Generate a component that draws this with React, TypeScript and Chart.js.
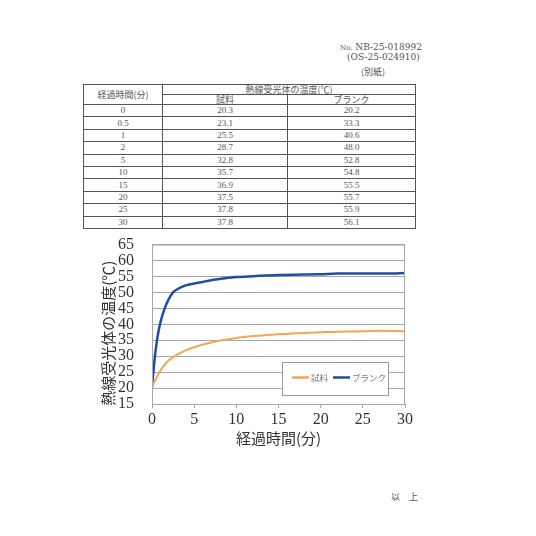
import React, { useEffect, useRef } from "react";
import { Chart, registerables } from "chart.js";

Chart.register(...registerables);

// ---- Table data ----
const tableTimes = ["0", "0.5", "1", "2", "5", "10", "15", "20", "25", "30"];
const tableSample = ["20.3", "23.1", "25.5", "28.7", "32.8", "35.7", "36.9", "37.5", "37.8", "37.8"];
const tableBlank = ["20.2", "33.3", "40.6", "48.0", "52.8", "54.8", "55.5", "55.7", "55.9", "56.1"];

// ---- Chart data ----
const sampleTime = [0, 0.5, 1, 1.5, 2, 3, 4, 5, 7, 10, 12, 15, 18, 20, 22, 25, 27, 29, 30];
const sampleTemp = [20.3, 23.1, 25.5, 27.3, 28.7, 30.5, 31.8, 32.8, 34.3, 35.7, 36.3, 36.9, 37.3, 37.5, 37.7, 37.8, 38.0, 37.9, 37.8];
const blankTime = [0, 0.25, 0.5, 0.75, 1, 1.5, 2, 2.5, 3, 4, 5, 6, 7, 8, 10, 12, 15, 18, 20, 22, 25, 28, 30];
const blankTemp = [20.2, 27.5, 33.3, 37.5, 40.6, 45.0, 48.0, 50.0, 51.0, 52.2, 52.8, 53.3, 53.8, 54.2, 54.8, 55.1, 55.5, 55.6, 55.7, 55.9, 55.9, 55.9, 56.1];

const seriesLabels = ["試料", "ブランク"];
const seriesColors = ["#f2a654", "#1f4fa0"];
const xTitle = "経過時間(分)";
const yTitle = "熱線受光体の温度(℃)";

const serif = "'Liberation Serif', 'DejaVu Serif', 'Noto Sans CJK JP', serif";
const dvSerif = "'DejaVu Serif', 'Liberation Serif', 'Noto Sans CJK JP', serif";
const cjk = "'Noto Sans CJK JP', sans-serif";

const decorPlugin = {
  id: "decor",
  afterDraw(chart: any) {
    const ctx = chart.ctx;
    const ca = chart.chartArea;
    ctx.save();
    // plot border
    ctx.strokeStyle = "#a8a8a8";
    ctx.lineWidth = 1;
    ctx.strokeRect(ca.left + 0.5, ca.top + 0.5, ca.right - ca.left - 1, ca.bottom - ca.top);
    // y-axis title
    ctx.save();
    ctx.translate(ca.left - 44, (ca.top + ca.bottom) / 2 + 9);
    ctx.rotate(-Math.PI / 2);
    ctx.font = "15px " + cjk;
    ctx.fillStyle = "#333";
    ctx.textAlign = "center";
    ctx.textBaseline = "middle";
    ctx.fillText(yTitle, 0, 0);
    ctx.restore();
    // legend box
    const bx = ca.right - 123;
    const by = ca.bottom - 42;
    ctx.fillStyle = "#ffffff";
    ctx.fillRect(bx, by, 106, 33);
    ctx.strokeStyle = "#9a9a9a";
    ctx.strokeRect(bx + 0.5, by + 0.5, 106, 33);
    const items = chart.data.datasets;
    const offs = [10, 51];
    ctx.font = "8.5px " + cjk;
    ctx.textBaseline = "middle";
    ctx.textAlign = "left";
    items.forEach((ds: any, i: number) => {
      const x = bx + offs[i];
      const y = by + 15.5;
      ctx.strokeStyle = ds.borderColor;
      ctx.lineWidth = 2.5;
      ctx.beginPath();
      ctx.moveTo(x, y);
      ctx.lineTo(x + 17, y);
      ctx.stroke();
      ctx.fillStyle = "#777";
      ctx.fillText(ds.label, x + 19, y);
    });
    ctx.restore();
  },
};

function ChartBox() {
  const ref = useRef<HTMLCanvasElement>(null);
  useEffect(() => {
    if (!ref.current) return;
    const chart = new Chart(ref.current, {
      type: "line",
      data: {
        datasets: [
          {
            label: seriesLabels[0],
            data: sampleTime.map((t, i) => ({ x: t, y: sampleTemp[i] })),
            borderColor: seriesColors[0],
            borderWidth: 2,
            pointRadius: 0,
            cubicInterpolationMode: "monotone",
          },
          {
            label: seriesLabels[1],
            data: blankTime.map((t, i) => ({ x: t, y: blankTemp[i] })),
            borderColor: seriesColors[1],
            borderWidth: 2.5,
            pointRadius: 0,
            cubicInterpolationMode: "monotone",
          },
        ],
      },
      options: {
        responsive: false,
        animation: false,
        devicePixelRatio: 1,
        layout: { padding: { top: 1, right: 15, left: 0, bottom: 0 } },
        plugins: { legend: { display: false }, tooltip: { enabled: false } },
        scales: {
          x: {
            type: "linear",
            min: 0,
            max: 30,
            ticks: { stepSize: 5, autoSkip: false, color: "#333", font: { family: serif, size: 16 }, padding: 2, maxRotation: 0 },
            grid: { drawOnChartArea: false, drawTicks: true, tickLength: 4, color: "#a8a8a8" },
            border: { color: "#a8a8a8" },
            title: { display: true, text: xTitle, color: "#333", font: { family: cjk, size: 15 }, padding: { top: 0, bottom: 13 } },
            afterFit: (s: any) => { s.height = 56; },
          },
          y: {
            min: 15,
            max: 65,
            ticks: { stepSize: 5, autoSkip: false, color: "#333", font: { family: serif, size: 16 }, padding: 18 },
            grid: { color: "#a8a8a8", drawTicks: false },
            border: { color: "#a8a8a8" },
            title: { display: false },
            afterFit: (s: any) => { s.width = 62; },
          },
        },
      },
      plugins: [decorPlugin],
    } as any);
    return () => chart.destroy();
  }, []);
  return <canvas ref={ref} width={330} height={243} style={{ position: "absolute", left: 90, top: 217, width: 330, height: 243 }} />;
}

const cell: React.CSSProperties = {
  border: "1px solid #555",
  padding: 0,
  textAlign: "center",
  fontSize: 9,
  color: "#555",
  lineHeight: "11px",
};

export default function App() {
  return (
    <div style={{ position: "absolute", left: 0, top: 0, width: 536, height: 536, background: "#fff", fontFamily: serif, overflow: "hidden" }}>
      <div style={{ position: "absolute", left: 340, top: 42, fontSize: 9, color: "#555", lineHeight: "10px", whiteSpace: "nowrap", fontFamily: dvSerif }}>
        <span style={{ fontSize: 7 }}>No.</span> NB-25-018992
      </div>
      <div style={{ position: "absolute", left: 347, top: 52, fontSize: 9, color: "#555", lineHeight: "10px", whiteSpace: "nowrap", fontFamily: dvSerif }}>
        (OS-25-024910)
      </div>
      <div style={{ position: "absolute", left: 361, top: 67, fontSize: 9, color: "#555", lineHeight: "10px", fontFamily: cjk, whiteSpace: "nowrap" }}>
        (別紙)
      </div>
      <table style={{ position: "absolute", left: 83, top: 84, width: 332, borderCollapse: "collapse", tableLayout: "fixed", fontFamily: serif }}>
        <colgroup>
          <col style={{ width: 79 }} />
          <col style={{ width: 125 }} />
          <col style={{ width: 128 }} />
        </colgroup>
        <tbody>
          <tr style={{ height: 10 }}>
            <td rowSpan={2} style={{ ...cell, fontFamily: cjk }}>経過時間(分)</td>
            <td colSpan={2} style={{ ...cell, fontFamily: cjk, lineHeight: "9px" }}>熱線受光体の温度(℃)</td>
          </tr>
          <tr style={{ height: 10 }}>
            <td style={{ ...cell, fontFamily: cjk, lineHeight: "9px" }}>試料</td>
            <td style={{ ...cell, fontFamily: cjk, lineHeight: "9px" }}>ブランク</td>
          </tr>
          {tableTimes.map((t, i) => (
            <tr key={t} style={{ height: 12.4 }}>
              <td style={cell}>{t}</td>
              <td style={cell}>{tableSample[i]}</td>
              <td style={cell}>{tableBlank[i]}</td>
            </tr>
          ))}
        </tbody>
      </table>
      <ChartBox />
      <div style={{ position: "absolute", left: 391, top: 490, fontSize: 9, color: "#555", fontFamily: cjk, whiteSpace: "nowrap" }}>
        以　上
      </div>
    </div>
  );
}
